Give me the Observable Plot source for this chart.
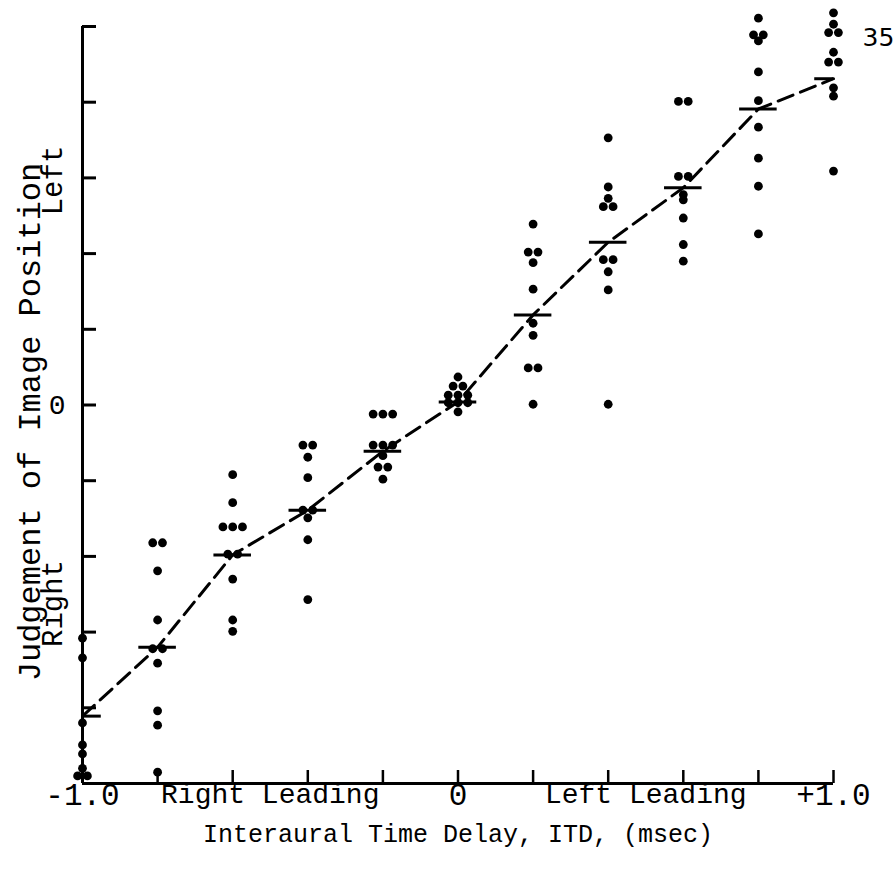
<!DOCTYPE html>
<html>
<head>
<meta charset="utf-8">
<script src="https://cdn.jsdelivr.net/npm/d3@7"></script>
<script src="https://cdn.jsdelivr.net/npm/@observablehq/plot@0.6"></script>
<style>
  html, body { margin: 0; padding: 0; background: #fff; }
  #chart svg { display: block; }
</style>
</head>
<body>
<div id="chart"></div>
<script>
// ITD conditions (msec)
const itd = [-1.0, -0.8, -0.6, -0.4, -0.2, 0, 0.2, 0.4, 0.6, 0.8, 1.0];
// Median judgement per condition
const medianJudgement = [-4.11, -3.20, -1.98, -1.39, -0.61, 0.04, 1.19, 2.15, 2.87, 3.91, 4.31];
// Individual judgements per condition
const judgements = [
  [-3.08, -3.34, -4.20, -4.49, -4.61, -4.80, -4.90, -4.90],
  [-1.82, -1.82, -2.19, -2.84, -3.22, -3.22, -3.41, -4.04, -4.23, -4.85],
  [-0.92, -1.29, -1.61, -1.61, -1.61, -1.97, -1.97, -2.30, -2.84, -2.99],
  [-0.53, -0.53, -0.69, -0.96, -1.39, -1.39, -1.49, -1.78, -2.57],
  [-0.12, -0.12, -0.12, -0.53, -0.53, -0.53, -0.67, -0.82, -0.82, -0.98],
  [0.37, 0.25, 0.25, 0.13, 0.13, 0.13, 0.03, 0.03, 0.03, -0.09],
  [2.39, 2.02, 2.02, 1.88, 1.53, 1.08, 0.92, 0.49, 0.49, 0.01],
  [3.53, 2.88, 2.73, 2.62, 2.62, 1.92, 1.92, 1.76, 1.52, 0.01],
  [4.01, 4.01, 3.02, 3.02, 2.78, 2.71, 2.47, 2.12, 1.90],
  [5.11, 4.89, 4.89, 4.81, 4.40, 4.02, 3.67, 3.26, 2.89, 2.26],
  [5.18, 5.03, 4.92, 4.92, 4.66, 4.53, 4.53, 4.19, 4.08, 3.09]
];
// Tick values and labels
const xTicks = [-1.0, -0.8, -0.6, -0.4, -0.2, 0, 0.2, 0.4, 0.6, 0.8, 1.0];
const xNumPos = [-1.0, 0, 1.0];
const xNumText = ["-1.0", "0", "+1.0"];
const xWordPos = [-0.5, 0.5];
const xWordText = ["Right Leading", "Left Leading"];
const yTicks = [-5, -4, -3, -2, -1, 0, 1, 2, 3, 4, 5];
const yLabelPos = [0];
const yLabelText = ["0"];
const xTitle = "Interaural Time Delay, ITD, (msec)";
const yTitle = "Judgement of Image Position";
const yTitleLeft = "Left";
const yTitleRight = "Right";
const pageNumber = "35";

// Build tables
const medians = itd.map((x, i) => ({x, y: medianJudgement[i]}));
const points = [];
itd.forEach((x, i) => {
  const vals = judgements[i];
  const groups = d3.group(vals, v => v);
  for (const [v, arr] of groups) {
    const n = arr.length;
    arr.forEach((d, k) => points.push({x: x + (k - (n - 1) / 2) * 0.026, y: v}));
  }
});
const xNumMap = new Map(xNumPos.map((p, i) => [p, xNumText[i]]));
const xWordMap = new Map(xWordPos.map((p, i) => [p, xWordText[i]]));
const yLabelMap = new Map(yLabelPos.map((p, i) => [p, yLabelText[i]]));
const half = 0.05;

const mono = "'Liberation Mono', 'Courier New', monospace";

const chart = Plot.plot({
  width: 895,
  height: 872,
  marginLeft: 82,
  marginRight: 62,
  marginTop: 26,
  marginBottom: 89,
  x: {domain: [-1, 1]},
  y: {domain: [-5, 5]},
  style: {fontFamily: mono, fontSize: "27px", color: "#000", background: "#fff"},
  marks: [
    // axis lines
    Plot.ruleX([-1], {y1: -5, y2: 5, strokeWidth: 3, stroke: "#000"}),
    Plot.ruleY([-5], {x1: -1, x2: 1, strokeWidth: 3, stroke: "#000"}),
    // inward tick marks
    Plot.axisY({ticks: yTicks, tickSize: 14, dx: 14, strokeWidth: 3, tickFormat: () => "", label: null}),
    Plot.axisX({ticks: xTicks, tickSize: 13, dy: -13, strokeWidth: 2.5, tickFormat: () => "", label: null}),
    // axis labels
    Plot.axisY({ticks: yLabelPos, tickSize: 0, tickPadding: 17, tickFormat: d => yLabelMap.get(d), fontSize: 28, label: null}),
    Plot.axisX({ticks: xNumPos, tickSize: 0, tickPadding: -1, tickFormat: d => xNumMap.get(d), fontSize: 31, label: null}),
    Plot.axisX({ticks: xWordPos, tickSize: 0, tickPadding: 0, tickFormat: d => xWordMap.get(d), fontSize: 28, label: null}),
    // axis titles
    Plot.text([xTitle], {frameAnchor: "bottom", dy: 50, lineAnchor: "middle", fontSize: 25, fill: "#000"}),
    Plot.text([yTitle], {frameAnchor: "left", dx: -53, dy: 17, rotate: -90, textAnchor: "middle", lineAnchor: "middle", fontSize: 32, fill: "#000"}),
    Plot.text([yTitleLeft], {frameAnchor: "top-left", dx: -30, dy: 154, rotate: -90, textAnchor: "middle", lineAnchor: "middle", fontSize: 29, fill: "#000"}),
    Plot.text([yTitleRight], {frameAnchor: "bottom-left", dx: -30, dy: -180, rotate: -90, textAnchor: "middle", lineAnchor: "middle", fontSize: 29, fill: "#000"}),
    Plot.text([pageNumber], {frameAnchor: "top-right", dx: 29, dy: 11, textAnchor: "start", lineAnchor: "middle", fontSize: 25, fontFamily: "'DejaVu Sans', sans-serif", fill: "#000"}),
    // dashed median line
    Plot.line(medians, {x: "x", y: "y", stroke: "#000", strokeWidth: 3, strokeDasharray: "16,8"}),
    // median bars
    Plot.ruleY(medians, {y: "y", x1: d => Math.max(-1, d.x - half), x2: d => Math.min(1, d.x + half), stroke: "#000", strokeWidth: 3}),
    // individual judgements
    Plot.dot(points, {x: "x", y: "y", r: 4.4, fill: "#000", stroke: "none"})
  ]
});
document.getElementById("chart").appendChild(chart);
</script>
</body>
</html>
